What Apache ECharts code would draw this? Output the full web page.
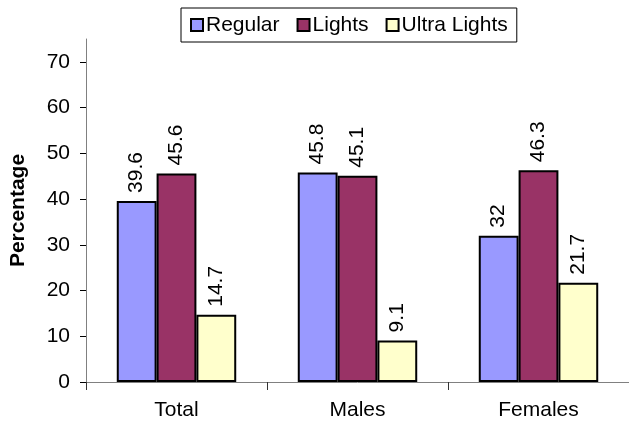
<!DOCTYPE html>
<html>
<head>
    <meta charset="utf-8">
    <title>Percentage by type</title>
    <script src="https://cdn.jsdelivr.net/npm/echarts@6/dist/echarts.min.js"></script>
    <style>
        html, body { margin: 0; padding: 0; background: #fff; }
        #main { width: 629px; height: 426px; }
    </style>
</head>
<body>
    <div id="main"></div>
    <script type="text/javascript">
        // data
        var categories = ['Total', 'Males', 'Females'];
        var regular = [39.6, 45.8, 32];
        var lights = [45.6, 45.1, 46.3];
        var ultraLights = [14.7, 9.1, 21.7];
        var yTicks = [0, 10, 20, 30, 40, 50, 60, 70];

        var font = 'Liberation Sans, Arial, sans-serif';

        function barSeries(name, data, color) {
            return {
                name: name,
                type: 'bar',
                data: data,
                barGap: '0%',
                barCategoryGap: '34%',
                itemStyle: { color: color, borderColor: '#000', borderWidth: 2 },
                label: {
                    show: true,
                    position: 'top',
                    rotate: 90,
                    align: 'left',
                    verticalAlign: 'middle',
                    distance: 8,
                    color: '#000',
                    fontFamily: font,
                    fontSize: 21
                }
            };
        }

        var myChart = echarts.init(document.getElementById('main'));
        var option = {
            animation: false,
            backgroundColor: '#fff',
            legend: {
                top: 8,
                left: 181,
                padding: [6, 9, 6, 9],
                itemGap: 17,
                itemWidth: 12,
                itemHeight: 12,
                icon: 'rect',
                borderColor: '#000',
                borderWidth: 1,
                textStyle: { fontFamily: font, fontSize: 21, lineHeight: 22, color: '#000', padding: [0, 0, 0, -2] },
                itemStyle: { borderColor: '#000', borderWidth: 2 },
                data: ['Regular', 'Lights', 'Ultra Lights']
            },
            grid: { left: 82, right: -3, top: 39, bottom: 44 },
            xAxis: {
                type: 'category',
                data: categories,
                axisLine: { lineStyle: { color: '#808080', width: 1 } },
                axisTick: { show: true, length: 8, lineStyle: { color: '#333' } },
                axisLabel: { color: '#000', fontFamily: font, fontSize: 21, margin: 18 }
            },
            yAxis: {
                type: 'value',
                min: 0,
                max: 75,
                interval: 10,
                name: 'Percentage',
                nameLocation: 'middle',
                nameGap: 57,
                nameTextStyle: { fontFamily: font, fontSize: 21, fontWeight: 'bold', color: '#000' },
                splitLine: { show: false },
                axisLine: { show: true, lineStyle: { color: '#808080', width: 1 } },
                axisTick: { show: true, length: 6, customValues: yTicks, lineStyle: { color: '#000' } },
                axisLabel: { color: '#000', fontFamily: font, fontSize: 21, margin: 16, customValues: yTicks }
            },
            series: [
                barSeries('Regular', regular, '#9999ff'),
                barSeries('Lights', lights, '#993366'),
                barSeries('Ultra Lights', ultraLights, '#ffffcc')
            ]
        };
        myChart.setOption(option);
    </script>
</body>
</html>
